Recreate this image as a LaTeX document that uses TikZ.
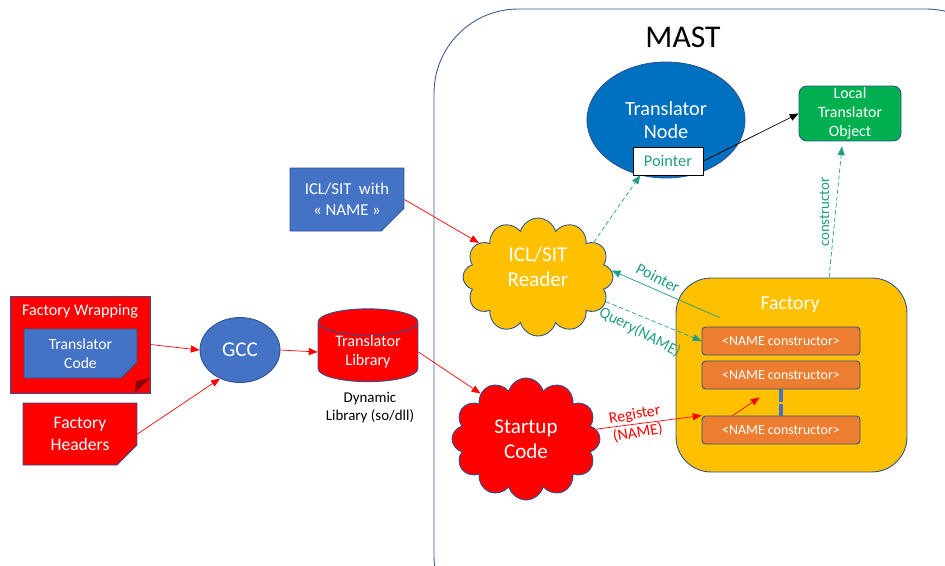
\documentclass[tikz,border=0pt]{standalone}
\usepackage{fontspec}
\setmainfont{Carlito}
\usetikzlibrary{arrows.meta,calc,shapes.geometric,shapes.misc,shapes.symbols}
\definecolor{MASTEdge}{HTML}{2F528F}
\definecolor{MASTFrame}{HTML}{3A5A94}
\definecolor{MASTBlue}{HTML}{4472C4}
\definecolor{MASTNodeBlue}{HTML}{0070C0}
\definecolor{MASTGold}{HTML}{FFC000}
\definecolor{MASTRed}{HTML}{FF0000}
\definecolor{MASTGreen}{HTML}{00B050}
\definecolor{MASTCtor}{HTML}{ED7D31}
\definecolor{MASTTeal}{HTML}{1E9E86}

\begin{document}
\begin{tikzpicture}[x=0.02cm,y=-0.02cm,line width=0.5pt,
      shapebox/.style={draw=MASTEdge,text=white,align=center,inner sep=0pt},
      doc/.style n args={2}{shapebox,chamfered rectangle,
        chamfered rectangle corners=south east,
        chamfered rectangle xsep=#1,chamfered rectangle ysep=#1,
        path picture={\fill[#2] ([xshift=-#1]path picture bounding box.south east)
          -- ([yshift=#1]path picture bounding box.south east)
          -- ([xshift=-0.95*#1,yshift=0.8*#1]path picture bounding box.south east)
          -- cycle;}},
      puff/.style={shapebox,cloud,cloud puffs=12,cloud ignores aspect,
        font=\fontsize{12}{14}\selectfont},
      ctor/.style={shapebox,fill=MASTCtor,rounded corners=2pt,minimum width=3.16cm,
        minimum height=0.56cm,font=\fontsize{7.9}{9}\selectfont},
      redline/.style={MASTRed,line width=0.4pt,-{Triangle[length=5pt,width=4pt]}},
      tealline/.style={MASTTeal,line width=0.4pt,-{Triangle[length=5pt,width=4pt]}},
      tealdash/.style={tealline,dash pattern=on 2.5pt off 1.5pt},
      tag/.style={font=\fontsize{9}{10.5}\selectfont,align=center}]
      \useasboundingbox (0,0) rectangle (945,565);
      % MAST frame
      \draw[MASTFrame,rounded corners=48pt] (434,9) rectangle (1010,640);
      \node[font=\fontsize{18}{20}\selectfont] (mast) at (683,37) {MAST};

      \node[shapebox,ellipse,fill=MASTNodeBlue,minimum width=3.16cm,minimum height=2.32cm,
        font=\fontsize{11.5}{13}\selectfont] (tnode) at (666,120) {Translator\\Node};
      \node[draw=black,fill=white,minimum width=1.4cm,minimum height=0.56cm,
        text=MASTTeal,font=\fontsize{9.3}{11}\selectfont] (ptr) at (668,161) {Pointer};
      \node[shapebox,fill=MASTGreen,rounded corners=4.5pt,minimum width=2.04cm,
        minimum height=1.1cm,font=\fontsize{9}{10.8}\selectfont] (lto) at (850,113.5)
        {Local\\Translator\\Object};

      \node[doc={6.5pt}{MASTEdge},fill=MASTBlue,minimum width=2.28cm,minimum height=1.26cm,
        font=\fontsize{9.5}{12}\selectfont] (icl) at (347,199.5) {ICL/SIT\ \ with\\« NAME »};
      \node[puff,fill=MASTGold,minimum width=3cm,minimum height=2.36cm] (reader)
        at (538,277) {ICL/SIT\\Reader\\[-2pt]\mbox{}};
      \node[puff,fill=MASTRed,minimum width=2.96cm,minimum height=2.44cm] (startup)
        at (526,439) {Startup\\Code};

      \node[shapebox,cylinder,shape border rotate=90,aspect=0.4,fill=MASTRed,
        minimum width=2cm,minimum height=1.1cm,font=\fontsize{9.2}{11}\selectfont]
        (lib) at (368,352) {Translator\\Library};
      \node[tag,font=\fontsize{8.5}{10.2}\selectfont] (dyn) at (370,408)
        {Dynamic\\Library (so/dll)};
      \node[shapebox,ellipse,fill=MASTBlue,minimum width=1.6cm,minimum height=1.3cm,
        font=\fontsize{12}{14}\selectfont] (gcc) at (240,350) {GCC};

      % left side sources
      \node[doc={8.5pt}{MASTRed!55!black},fill=MASTRed,minimum width=2.8cm,
        minimum height=1.94cm] (wrap) at (80,344.5) {};
      \node[text=white,font=\fontsize{9.2}{11}\selectfont] (wraptitle) at (80,311)
        {Factory Wrapping};
      \node[doc={4.5pt}{MASTEdge},fill=MASTBlue,minimum width=2.26cm,minimum height=0.98cm,
        font=\fontsize{8.9}{10.8}\selectfont] (tcode) at (80.5,353.5) {Translator\\Code};
      \node[doc={5.7pt}{MASTRed!55!black},fill=MASTRed,minimum width=2.28cm,
        minimum height=1.24cm,font=\fontsize{10}{12.5}\selectfont] (headers) at (80,434)
        {Factory\\Headers};

      % factory
      \node[shapebox,fill=MASTGold,rounded corners=20pt,minimum width=4.62cm,
        minimum height=3.88cm] (factory) at (791.5,375) {};
      \node[text=white,font=\fontsize{11.2}{13}\selectfont] (facttitle) at (790,305) {Factory};
      \node[ctor] (c1) at (781,341) {<NAME constructor>};
      \node[ctor] (c2) at (781,375) {<NAME constructor>};
      \node[ctor] (c3) at (781,430) {<NAME constructor>};
      \draw[MASTBlue,line width=2.2pt,dash pattern=on 7pt off 1.5pt] (c2.south) -- (c3.north);

      % build chain
      \draw[redline] (wrap.east) -- (gcc.west);
      \draw[redline] (headers.east) -- (gcc.235);
      \draw[redline] (gcc.east) -- (lib.west);
      \draw[redline] (icl.east) -- (reader.150);
      \draw[redline] (lib.east) -- (startup.135);
      \draw[redline] (startup.8) -- node[tag,pos=0.38,rotate=10,text=MASTRed]
        {Register\\(NAME)} (c3.north west);
      \draw[redline] ($(c3.north west)+(31,0)$) -- ($(c2.south west)+(58,8)$);

      % runtime links
      \draw[tealdash] (reader.32) -- (tnode.245);
      \draw[tealline] ($(c1.north west)+(18,-9)$) -- node[tag,pos=0.62,anchor=south,
        rotate=-27,text=MASTTeal] {Pointer} (reader.5);
      \draw[tealdash] (reader.-20) -- node[tag,pos=0.43,anchor=north,rotate=-28,
        inner sep=4.5pt,text=MASTTeal] {Query(NAME)} (c1.west);
      \draw[tealdash] ($(factory.north)+(37.5,0)$) -- node[tag,pos=0.5,anchor=south,
        rotate=90,font=\fontsize{8.5}{10}\selectfont,text=MASTTeal] {constructor}
        ($(lto.south)+(-8,5)$);
      \draw[line width=0.4pt,-{Triangle[length=5pt,width=4pt]}] (ptr.east) -- (lto.west);
    \end{tikzpicture}
\end{document}
